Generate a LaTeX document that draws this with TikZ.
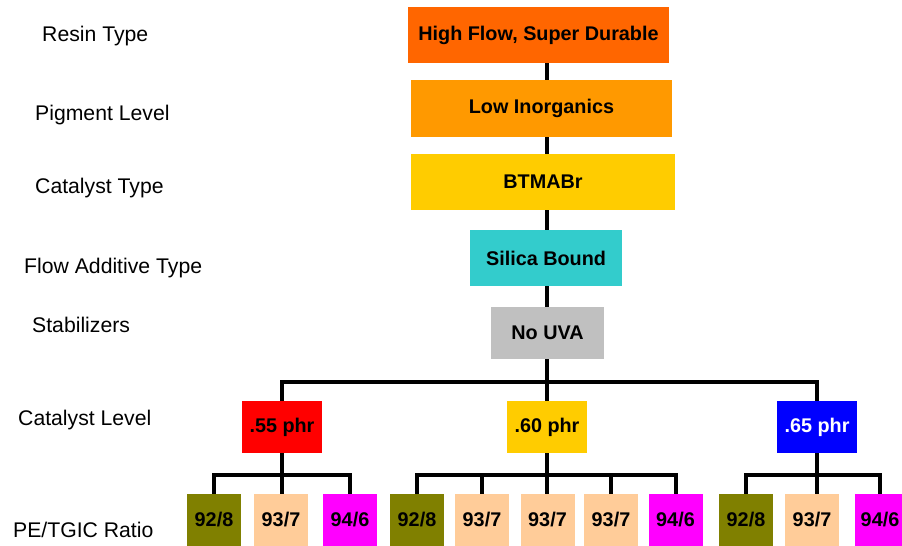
\documentclass[tikz,border=0pt]{standalone}
\usepackage{fontspec}
\setmainfont{Liberation Sans}
\definecolor{cResin}{HTML}{FF6600}
\definecolor{cPig}{HTML}{FF9900}
\definecolor{cCat}{HTML}{FFCC00}
\definecolor{cSil}{HTML}{33CCCC}
\definecolor{cUVA}{HTML}{C0C0C0}
\definecolor{cRed}{HTML}{FF0000}
\definecolor{cBlue}{HTML}{0000FF}
\definecolor{cOlive}{HTML}{808000}
\definecolor{cPeach}{HTML}{FFCC99}
\definecolor{cMag}{HTML}{FF00FF}
\begin{document}
\begin{tikzpicture}[x=1pt,y=-1pt,
  box/.style={rectangle, inner sep=0pt, font=\fontsize{19.8}{22}\selectfont\bfseries},
  lab/.style={anchor=base west, inner sep=0pt, font=\fontsize{21.2}{24}\selectfont},
  lvl/.style={box, minimum width=80pt, minimum height=52pt},
  ratio/.style={box, minimum width=54pt, minimum height=52pt},
  conn/.style={line width=4pt, black}]
\useasboundingbox (0,0) rectangle (902,546);
% row labels
\node[lab] (l1) at (42,41) {Resin Type};
\node[lab] (l2) at (35,120) {Pigment Level};
\node[lab] (l3) at (35,193) {Catalyst Type};
\node[lab] (l4) at (24,273) {Flow Additive Type};
\node[lab] (l5) at (32,332) {Stabilizers};
\node[lab] (l6) at (18,425) {Catalyst Level};
\node[lab] (l7) at (13,537) {PE/TGIC Ratio};
% main chain
\node[box, fill=cResin, minimum width=261pt, minimum height=56pt] (resin) at (538.5,35) {High Flow, Super Durable};
\node[box, fill=cPig, minimum width=261pt, minimum height=57pt] (pig) at (541.5,108.5) {Low Inorganics};
\node[box, fill=cCat, minimum width=264pt, minimum height=56pt] (cat) at (543,182) {BTMABr};
\node[box, fill=cSil, minimum width=152pt, minimum height=56pt] (flow) at (546,258) {Silica Bound};
\node[box, fill=cUVA, minimum width=113pt, minimum height=52pt] (stab) at (547.5,333) {No UVA};
\coordinate (stem) at (547,0);
\draw[conn] (resin.south -| stem) -- (pig.north -| stem);
\draw[conn] (pig.south -| stem) -- (cat.north -| stem);
\draw[conn] (cat.south -| stem) -- (flow.north -| stem);
\draw[conn] (flow.south -| stem) -- (stab.north -| stem);
% catalyst levels
\node[lvl, fill=cRed] (c55) at (282,427) {.55 phr};
\node[lvl, fill=cCat] (c60) at (547,427) {.60 phr};
\node[lvl, fill=cBlue, text=white] (c65) at (817,427) {.65 phr};
\coordinate (busA) at (547,382);
\draw[conn] (stab.south -| stem) -- (busA);
\draw[conn] (c55.north) |- (busA) -| (c65.north);
\draw[conn] (busA) -- (c60.north);
% ratios, left group
\node[ratio, fill=cOlive] (a1) at (214,520) {92/8};
\node[ratio, fill=cPeach] (a2) at (281,520) {93/7};
\node[ratio, fill=cMag] (a3) at (350,520) {94/6};
\coordinate (busL) at (282,475);
\draw[conn] (c55.south) -- (busL);
\draw[conn] (a1.north) |- (busL) -| (a3.north);
\draw[conn] (busL) -- (busL |- a2.north);
% middle group
\node[ratio, fill=cOlive] (b1) at (417,520) {92/8};
\node[ratio, fill=cPeach] (b2) at (482,520) {93/7};
\node[ratio, fill=cPeach] (b3) at (547.5,520) {93/7};
\node[ratio, fill=cPeach] (b4) at (611,520) {93/7};
\node[ratio, fill=cMag] (b5) at (675.5,520) {94/6};
\coordinate (busM) at (547,475);
\draw[conn] (c60.south) -- (busM);
\draw[conn] (b1.north) |- (busM) -| (b5.north);
\draw[conn] (busM) -- (busM |- b3.north);
\draw[conn] (b2.north) -- (b2.north |- busM);
\draw[conn] (b4.north) -- (b4.north |- busM);
% right group
\node[ratio, fill=cOlive] (d1) at (746,520) {92/8};
\node[ratio, fill=cPeach] (d2) at (812,520) {93/7};
\node[ratio, fill=cMag, minimum width=50pt] (d3) at (880,520) {94/6};
\coordinate (busR) at (817,475);
\draw[conn] (c65.south) -- (busR);
\draw[conn] (d1.north) |- (busR) -| (d3.north);
\draw[conn] (busR) -- (busR |- d2.north);
\end{tikzpicture}
\end{document}
